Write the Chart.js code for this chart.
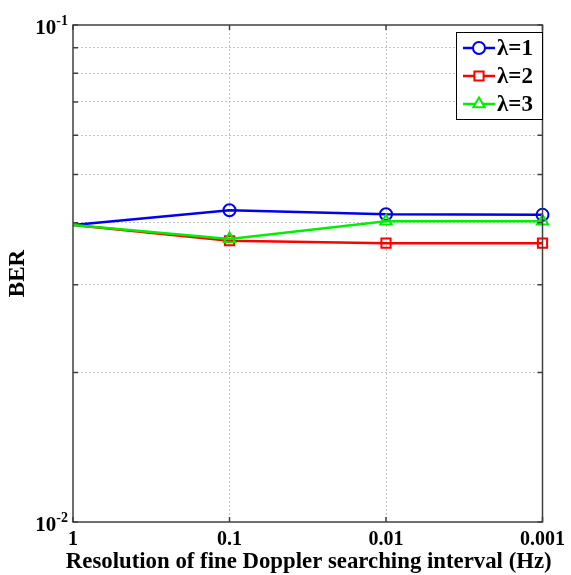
<!DOCTYPE html>
<html>
<head>
<meta charset="utf-8">
<script src="https://cdn.jsdelivr.net/npm/chart.js@4"></script>
<style>
  html, body { margin: 0; padding: 0; background: #fff; }
  #wrap { width: 571px; height: 575px; }
</style>
</head>
<body>
<div id="wrap"><canvas id="myChart" width="571" height="575"></canvas></div>
<script>
// data
const xLabels = ['1', '0.1', '0.01', '0.001'];
const berL1 = [0.0396, 0.0424, 0.0416, 0.0415];
const berL2 = [0.0396, 0.0368, 0.0364, 0.0364];
const berL3 = [0.0396, 0.0371, 0.0403, 0.0403];
const yGrid = [0.01, 0.02, 0.03, 0.04, 0.05, 0.06, 0.07, 0.08, 0.09, 0.1];
const yMajor = [[0.01, '-2'], [0.1, '-1']];
const seriesNames = ['\u03bb=1', '\u03bb=2', '\u03bb=3'];
const xTitle = 'Resolution of fine Doppler searching interval (Hz)';

const serif = "'Liberation Serif', 'Times New Roman', serif";
const gridGray = '#c4c4c4';

function makeSet(name, values, color, style, size, order) {
    return {
        label: name,
        data: values,
        order: order,
        borderColor: color,
        backgroundColor: 'rgba(0,0,0,0)',
        borderWidth: 2.5,
        pointStyle: style,
        pointRadius: [0, size, size, size],
        pointBorderWidth: 2,
        pointBorderColor: color,
        pointBackgroundColor: 'rgba(0,0,0,0)',
        tension: 0,
        clip: false
    };
}

// frame, inward ticks, y tick labels with exponents, x title, legend box
const framePlugin = {
    id: 'frame',
    afterDraw(chart) {
        const ctx = chart.ctx;
        const a = chart.chartArea;
        const ys = chart.scales.y;
        const xs = chart.scales.x;
        ctx.save();

        ctx.strokeStyle = '#404040';
        ctx.lineWidth = 1.5;
        ctx.beginPath();
        for (const v of yGrid) {
            const py = ys.getPixelForValue(v);
            ctx.moveTo(a.left, py); ctx.lineTo(a.left + 5, py);
            ctx.moveTo(a.right, py); ctx.lineTo(a.right - 5, py);
        }
        for (let i = 0; i < xLabels.length; i++) {
            const px = xs.getPixelForValue(i);
            ctx.moveTo(px, a.top); ctx.lineTo(px, a.top + 5);
            ctx.moveTo(px, a.bottom); ctx.lineTo(px, a.bottom - 5);
        }
        ctx.stroke();
        ctx.strokeRect(a.left, a.top, a.right - a.left, a.bottom - a.top);

        // y labels 10^n
        ctx.fillStyle = '#000';
        ctx.textBaseline = 'alphabetic';
        ctx.textAlign = 'right';
        for (const [v, ex] of yMajor) {
            const py = ys.getPixelForValue(v);
            ctx.font = 'bold 14px ' + serif;
            const ew = ctx.measureText(ex).width;
            ctx.fillText(ex, a.left - 5, py);
            ctx.font = 'bold 21px ' + serif;
            ctx.fillText('10', a.left - 5 - ew, py + 9);
        }

        // x title (wider than the plot, so drawn here)
        ctx.textAlign = 'center';
        ctx.font = 'bold 22.8px ' + serif;
        ctx.fillText(xTitle, (a.left + a.right) / 2 + 1, 568);

        // legend
        const lx = 456, ly = 32, lw = 86, lh = 87;
        ctx.fillStyle = '#fff';
        ctx.fillRect(lx, ly, lw, lh);
        ctx.strokeStyle = '#000';
        ctx.lineWidth = 1;
        ctx.strokeRect(lx + 0.5, ly + 0.5, lw, lh);
        chart.data.datasets.forEach((ds, i) => {
            const cy = ly + 16 + i * 28;
            ctx.strokeStyle = ds.borderColor;
            ctx.lineWidth = 2.5;
            ctx.beginPath();
            ctx.moveTo(lx + 7, cy); ctx.lineTo(lx + 39, cy);
            ctx.stroke();
            ctx.lineWidth = 2;
            ctx.fillStyle = '#fff';
            Chart.helpers.drawPoint(ctx, {pointStyle: ds.pointStyle, radius: ds.pointRadius[1], rotation: 0, borderWidth: 2}, lx + 23, cy);
            ctx.fillStyle = '#000';
            ctx.textAlign = 'left';
            ctx.textBaseline = 'middle';
            ctx.font = 'bold 23px ' + serif;
            ctx.fillText(ds.label, lx + 41, cy + 1);
        });
        ctx.restore();
    }
};

const config = {
    type: 'line',
    data: {
        labels: xLabels,
        datasets: [
            makeSet(seriesNames[0], berL1, '#0000ee', 'circle', 6, 1),
            makeSet(seriesNames[1], berL2, '#ff0000', 'rect', 6.5, 2),
            makeSet(seriesNames[2], berL3, '#00ee00', 'triangle', 6.5, 0)
        ]
    },
    options: {
        responsive: false,
        animation: false,
        layout: { padding: { top: 25, right: 25, left: 0, bottom: 0 } },
        plugins: { legend: { display: false }, tooltip: { enabled: false } },
        scales: {
            x: {
                type: 'category',
                offset: false,
                grid: {
                    drawTicks: false,
                    color: (c) => (c.index === 0 || c.index === xLabels.length - 1) ? 'rgba(0,0,0,0)' : gridGray,
                    lineWidth: 1
                },
                border: { display: false, dash: [2, 2] },
                ticks: {
                    color: '#000',
                    padding: 6,
                    maxRotation: 0,
                    font: { family: serif, size: 20, weight: 'bold' }
                },
                title: { display: false },
                afterFit: (s) => { s.height = 53; }
            },
            y: {
                type: 'logarithmic',
                min: 0.01,
                max: 0.1,
                afterBuildTicks: (s) => { s.ticks = yGrid.map(v => ({ value: v })); },
                grid: {
                    drawTicks: false,
                    color: (c) => (c.tick && (c.tick.value === 0.01 || c.tick.value === 0.1)) ? 'rgba(0,0,0,0)' : gridGray,
                    lineWidth: 1
                },
                border: { display: false, dash: [2, 2] },
                ticks: { display: false },
                title: {
                    display: true,
                    text: 'BER',
                    color: '#000',
                    padding: { top: 4, bottom: 0 },
                    font: { family: serif, size: 23, weight: 'bold' }
                },
                afterFit: (s) => { s.width = 73; }
            }
        }
    },
    plugins: [framePlugin]
};

const myChart = new Chart(document.getElementById('myChart'), config);
</script>
</body>
</html>
